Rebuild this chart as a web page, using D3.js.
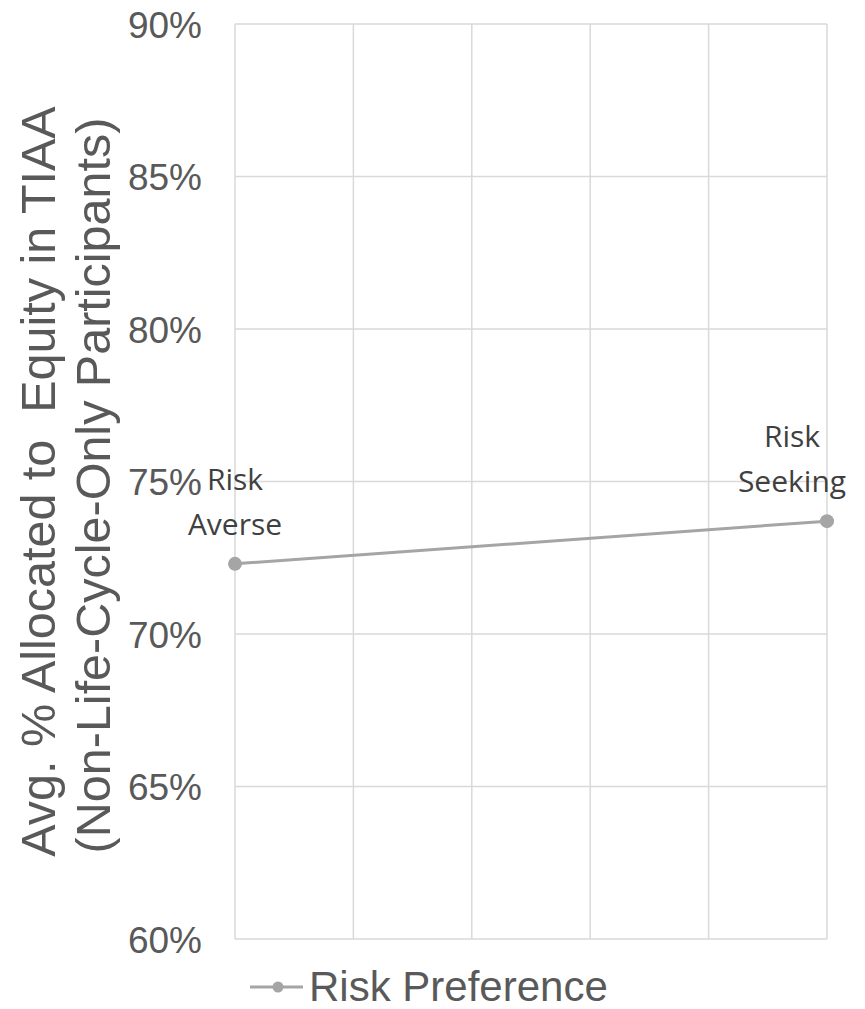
<!DOCTYPE html>
<html>
<head>
<meta charset="utf-8">
<script src="https://cdn.jsdelivr.net/npm/d3@7"></script>
<style>
  html, body { margin: 0; padding: 0; background: #fff; }
  svg { display: block; }
</style>
</head>
<body>
<svg id="chart" width="865" height="1009"></svg>
<script>
// Risk preference vs. average equity allocation
const categories = ["Risk Averse", "Risk Seeking"];
const values = [72.3, 73.7];
const yTicks = [60, 65, 70, 75, 80, 85, 90];
const xGridCount = 5;
const seriesName = "Risk Preference";
const titleLines = ["Avg. % Allocated to  Equity in TIAA", "(Non-Life-Cycle-Only Participants)"];

const svg = d3.select("#chart");
const plot = { left: 235, right: 827, top: 24, bottom: 939 };

const x = d3.scaleLinear().domain([0, 1]).range([plot.left, plot.right]);
const y = d3.scaleLinear().domain([60, 90]).range([plot.bottom, plot.top]);
const gx = d3.scaleLinear().domain([0, xGridCount]).range([plot.left, plot.right]);

const gridColor = "#d9d9d9";
const lineColor = "#a5a5a5";
const axisFont = "'Liberation Sans', Arial, sans-serif";
const labelFont = "'Open Sans', 'Noto Sans', sans-serif";

// horizontal gridlines
svg.append("g").selectAll("line").data(yTicks).join("line")
  .attr("x1", plot.left).attr("x2", plot.right)
  .attr("y1", d => y(d)).attr("y2", d => y(d))
  .attr("stroke", gridColor).attr("stroke-width", 1.5);

// vertical gridlines
svg.append("g").selectAll("line").data(d3.range(xGridCount + 1)).join("line")
  .attr("x1", d => gx(d)).attr("x2", d => gx(d))
  .attr("y1", plot.top).attr("y2", plot.bottom)
  .attr("stroke", gridColor).attr("stroke-width", 1.5);

// y axis tick labels
const yAxis = d3.axisLeft(y).tickValues(yTicks).tickFormat(d => d + "%").tickSize(0).tickPadding(33);
const yg = svg.append("g").attr("transform", `translate(${plot.left},0)`).call(yAxis);
yg.select(".domain").remove();
yg.selectAll("text")
  .attr("font-family", axisFont).attr("font-size", 37).attr("fill", "#595959")
  .attr("dy", "0.36em");

// y axis title (two lines, keeps the double space)
const title = svg.append("text")
  .attr("transform", `translate(0,${(plot.top + plot.bottom) / 2}) rotate(-90)`)
  .attr("text-anchor", "middle")
  .style("white-space", "pre")
  .attr("font-family", axisFont).attr("font-size", 48.5).attr("fill", "#595959");
title.selectAll("tspan").data(titleLines).join("tspan")
  .attr("x", (d, i) => i * -4).attr("y", (d, i) => 55 + i * 55)
  .text(d => d);

// series line
const pts = values.map((v, i) => [x(i), y(v)]);
svg.append("path")
  .attr("d", d3.line()(pts))
  .attr("fill", "none").attr("stroke", lineColor).attr("stroke-width", 3);

svg.append("g").selectAll("circle").data(values).join("circle")
  .attr("cx", (d, i) => x(i)).attr("cy", d => y(d)).attr("r", 7)
  .attr("fill", lineColor);

// data labels (two lines, stacked above each point)
const labelDx = [0, -35];
categories.forEach((c, i) => {
  const words = c.split(" ");
  const t = svg.append("text")
    .attr("font-family", labelFont).attr("font-size", 30).attr("fill", "#404040")
    .attr("text-anchor", "middle");
  words.forEach((w, j) => {
    t.append("tspan")
      .attr("x", x(i) + labelDx[i])
      .attr("y", y(values[i]) - 29 - (words.length - 1 - j) * 45)
      .text(w);
  });
});

// legend
const lg = svg.append("g").attr("transform", `translate(0,987)`);
lg.append("line").attr("x1", 250).attr("x2", 303).attr("y1", 0).attr("y2", 0)
  .attr("stroke", lineColor).attr("stroke-width", 3);
lg.append("circle").attr("cx", 278).attr("cy", 0).attr("r", 5.5).attr("fill", lineColor);
lg.append("text").attr("x", 309).attr("y", 14)
  .attr("font-family", axisFont).attr("font-size", 42).attr("fill", "#595959")
  .text(seriesName);
</script>
</body>
</html>
